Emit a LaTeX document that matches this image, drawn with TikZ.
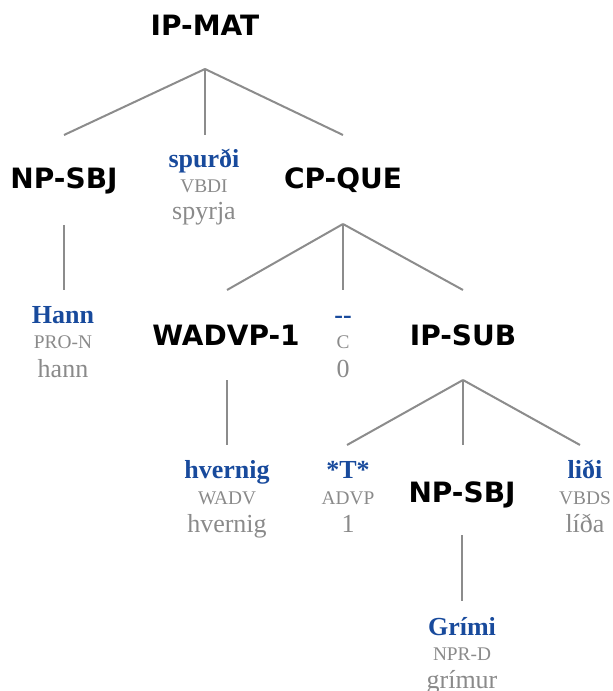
\documentclass[tikz,border=0pt]{standalone}
\usepackage{fontspec}
\setmainfont{Liberation Serif}
\newfontfamily\labfont{DejaVu Sans}
\definecolor{wordblue}{RGB}{24,74,156}
\definecolor{taggray}{RGB}{138,138,138}
\definecolor{linegray}{RGB}{140,140,140}
\tikzset{
  lab/.style={anchor=base, inner sep=0pt, font=\labfont\bfseries\fontsize{21}{25}\selectfont, text=black},
  wrd/.style={anchor=base, inner sep=0pt, font=\bfseries\fontsize{19.5}{23}\selectfont, text=wordblue},
  tg/.style={anchor=base, inner sep=0pt, font=\fontsize{14.5}{17}\selectfont, text=taggray},
  lem/.style={anchor=base, inner sep=0pt, font=\fontsize{19.5}{23}\selectfont, text=taggray},
  br/.style={draw=linegray, line width=1.5pt}
}
\begin{document}
\begin{tikzpicture}[x=0.75pt,y=-0.75pt]
\useasboundingbox (0,0) rectangle (612,691);
% labels
\node[lab] (ipmat) at (205,36) {IP-MAT};
\node[lab] (npsbj) at (64,189) {NP-SBJ};
\node[lab] (cpque) at (343,189) {CP-QUE};
\node[lab] (wadvp) at (226,345) {WADVP-1};
\node[lab] (ipsub) at (463,345) {IP-SUB};
\node[lab] (npsbjb) at (462,502) {NP-SBJ};
% leaves
\node[wrd] (spw) at (204,168) {spurði};
\node[tg] (spt) at (204,193) {VBDI};
\node[lem] (spl) at (204,220) {spyrja};
\node[wrd] (haw) at (63,323) {Hann};
\node[tg] (hat) at (63,348) {PRO-N};
\node[lem] (hal) at (63,377) {hann};
\node[wrd] (cw) at (343,323) {-{}-};
\node[tg] (ct) at (343,348) {C};
\node[lem] (cl) at (343,377) {0};
\node[wrd] (hvw) at (227,478) {hvernig};
\node[tg] (hvt) at (227,504) {WADV};
\node[lem] (hvl) at (227,532) {hvernig};
\node[wrd] (tw) at (348,478) {*T*};
\node[tg] (tt) at (348,504) {ADVP};
\node[lem] (tl) at (348,532) {1};
\node[wrd] (liw) at (585,478) {liði};
\node[tg] (lit) at (585,504) {VBDS};
\node[lem] (lil) at (585,532) {líða};
\node[wrd] (grw) at (462,635) {Grími};
\node[tg] (grt) at (462,660) {NPR-D};
\node[lem] (grl) at (462,688) {grímur};
% branch points
\coordinate (ipmat-d) at (205,69);
\coordinate (npsbj-u) at (64,135);
\coordinate (spw-u) at (205,135);
\coordinate (cpque-u) at (343,135);
\coordinate (npsbj-d) at (64,225);
\coordinate (haw-u) at (64,290);
\coordinate (cpque-d) at (343,224);
\coordinate (wadvp-u) at (227,290);
\coordinate (cw-u) at (343,290);
\coordinate (ipsub-u) at (463,290);
\coordinate (wadvp-d) at (227,380);
\coordinate (hvw-u) at (227,445);
\coordinate (ipsub-d) at (463,380);
\coordinate (tw-u) at (347,445);
\coordinate (npsbjb-u) at (463,445);
\coordinate (liw-u) at (580,445);
\coordinate (npsbjb-d) at (462,535);
\coordinate (grw-u) at (462,601);
% branches
\draw[br] (ipmat-d) -- (npsbj-u);
\draw[br] (ipmat-d) -- (spw-u);
\draw[br] (ipmat-d) -- (cpque-u);
\draw[br] (npsbj-d) -- (haw-u);
\draw[br] (cpque-d) -- (wadvp-u);
\draw[br] (cpque-d) -- (cw-u);
\draw[br] (cpque-d) -- (ipsub-u);
\draw[br] (wadvp-d) -- (hvw-u);
\draw[br] (ipsub-d) -- (tw-u);
\draw[br] (ipsub-d) -- (npsbjb-u);
\draw[br] (ipsub-d) -- (liw-u);
\draw[br] (npsbjb-d) -- (grw-u);
\end{tikzpicture}
\end{document}
